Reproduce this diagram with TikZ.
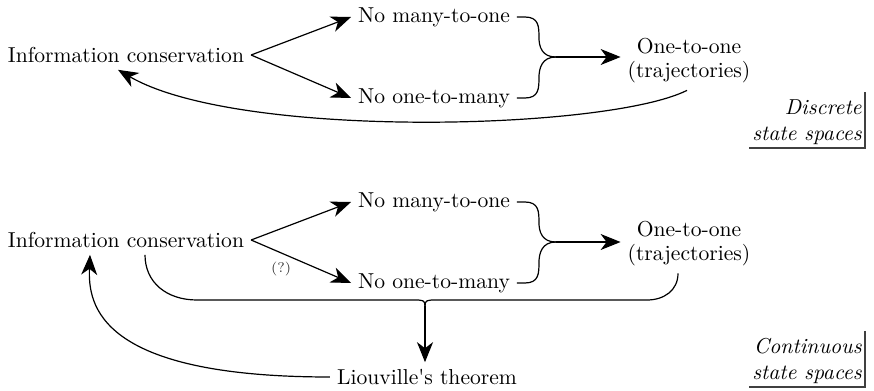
\documentclass[tikz,border=0pt]{standalone}
\usepackage{tikz}
\usetikzlibrary{arrows.meta,positioning,calc}

\begin{document}
\begin{tikzpicture}[x=0.5pt,y=-0.5pt,font=\fontsize{10.8}{12}\selectfont,
   arr/.style={-{Stealth[length=10pt,width=8pt,inset=3pt]},semithick},
   ln/.style={semithick},
   tag/.style={align=right,font=\fontsize{10.8}{12}\selectfont\itshape,inner sep=1.5pt,anchor=south east}]
  \useasboundingbox (0,0) rectangle (874,391);
  % discrete state spaces
  \node (ic1) at (126,55) {Information conservation};
  \node (mo1) at (434,17) {No many-to-one};
  \node (om1) at (434,98) {No one-to-many};
  \node[align=center] (oo1) at (689,61) {One-to-one\\(trajectories)};
  \node[tag] (ds) at (865,148) {Discrete\\[1pt]state spaces};
  \coordinate (j1) at (556,57);
  \draw[arr] (ic1.east) -- (mo1.west);
  \draw[arr] (ic1.east) -- (om1.west);
  \draw[ln] (mo1.east) -- ++(8,0) .. controls +(14,0) and +(0,-10) .. ++(14,20)
       .. controls +(0,10) and +(-14,0) .. (j1);
  \draw[ln] (om1.east) -- ++(8,0) .. controls +(14,0) and +(0,10) .. ++(14,-20)
       .. controls +(0,-10) and +(-14,0) .. (j1);
  \draw[arr,thick] (j1) -- (j1 -| oo1.west);
  \draw[arr] ($(oo1.south)+(-2,0)$) .. controls +(-80,40) and +(120,70) .. ($(ic1.south)+(-8,0)$);
  \draw[black!75,semithick] ($(ds.north east)+(0,-4)$) -- (ds.south east) -- (ds.south west);

  % continuous state spaces
  \node (ic2) at (126,240) {Information conservation};
  \node (mo2) at (434,202) {No many-to-one};
  \node (om2) at (434,283) {No one-to-many};
  \node[align=center] (oo2) at (689,244) {One-to-one\\(trajectories)};
  \node (lv) at (427,377) {Liouville\textquotesingle s theorem};
  \node[tag] (cs) at (865,387) {Continuous\\[1pt]state spaces};
  \coordinate (j2) at (425,306);
  \coordinate (j3) at (556,242);
  \draw[arr] (ic2.east) -- (mo2.west);
  \draw[arr] (ic2.east) -- node[pos=0.3,below=1pt,font=\scriptsize,black!80]{(?)} (om2.west);
  \draw[ln] (mo2.east) -- ++(8,0) .. controls +(14,0) and +(0,-10) .. ++(14,20)
       .. controls +(0,10) and +(-14,0) .. (j3);
  \draw[ln] (om2.east) -- ++(8,0) .. controls +(14,0) and +(0,10) .. ++(14,-20)
       .. controls +(0,-10) and +(-14,0) .. (j3);
  \draw[arr,thick] (j3) -- (j3 -| oo2.west);
  \draw[ln] ($(ic2.south)+(19,0)$) .. controls +(0,28) and +(-30,0) .. ($(j2)+(-228,-6)$)
       -- ($(j2)+(-12,-6)$) .. controls +(10,0) and +(0,-6) .. (j2);
  \draw[ln] ($(oo2.south)+(-11,0)$) .. controls +(0,17) and +(17,0) .. ($(j2)+(222,-6)$)
       -- ($(j2)+(12,-6)$) .. controls +(-10,0) and +(0,-6) .. (j2);
  \draw[arr] (j2) -- (j2 |- lv.north);
  \draw[arr] (lv.west) .. controls +(-232,0) and +(-2,50) .. ($(ic2.south)+(-36,0)$);
  \draw[black!75,semithick] ($(cs.north east)+(0,-4)$) -- (cs.south east) -- (cs.south west);
\end{tikzpicture}
\end{document}
